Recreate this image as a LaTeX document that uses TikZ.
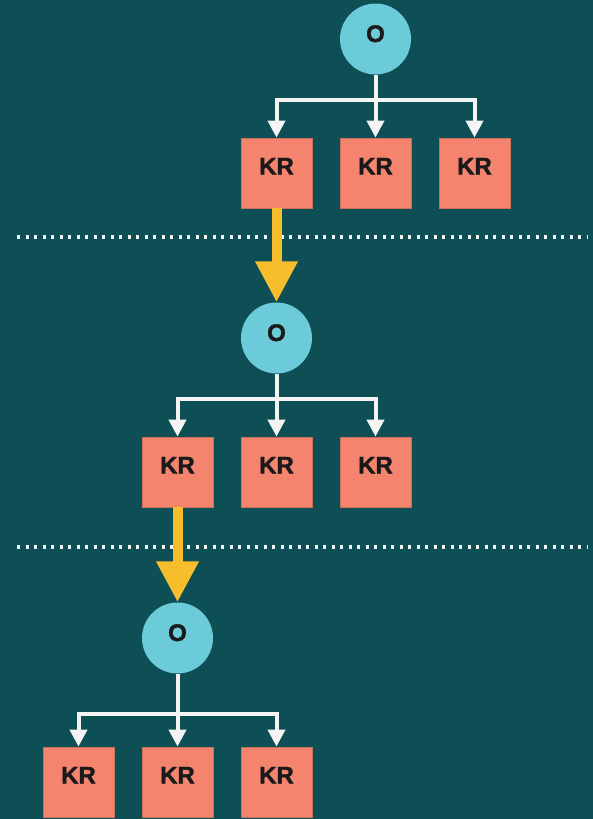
\documentclass[tikz,border=0pt]{standalone}
\usepackage{fontspec}
\setmainfont{Liberation Sans}
\newfontfamily\heavyfont[FakeBold=1.6]{Liberation Sans Bold}
\usetikzlibrary{arrows.meta}
\definecolor{bgc}{HTML}{0D4F55}
\definecolor{circc}{HTML}{6CCBD8}
\definecolor{boxc}{HTML}{F4846D}
\definecolor{boxb}{HTML}{C9705D}
\definecolor{yelc}{HTML}{F5BE2A}
\definecolor{whc}{HTML}{F4F4F4}
\definecolor{txc}{HTML}{1A1A1A}
\begin{document}
\begin{tikzpicture}[x=1pt,y=-1pt,
  obj/.style={circle,fill=circc,minimum size=71pt,inner sep=0pt,text=txc,
    font=\heavyfont\fontsize{24}{24}\selectfont,text height=17pt,text depth=11pt},
  kr/.style={rectangle,fill=boxc,draw=boxb,line width=0.8pt,minimum width=71pt,minimum height=70pt,
    inner sep=0pt,text=txc,font=\heavyfont\fontsize{24}{24}\selectfont,text height=17pt,text depth=14pt},
  wline/.style={draw=whc,line width=4pt,line cap=butt},
  warr/.style={draw=whc,line width=4pt,miter limit=10,-{Triangle[width=17pt,length=17pt]}},
  yarr/.style={draw=yelc,line width=10pt,-{Triangle[width=40pt,length=41pt]}},
  dotl/.style={draw=whc,line width=3.4pt,dash pattern=on 3.4pt off 5.1pt}]
\useasboundingbox (0,0) rectangle (593,819);
\fill[bgc] (0,0) rectangle (593,819);
% level 1
\node[obj] (o1) at (375.5,39) {O};
\node[kr] (k11) at (276.5,173) {KR};
\node[kr] (k12) at (375.5,173) {KR};
\node[kr] (k13) at (474.5,173) {KR};
\coordinate (b1) at (375.5,100);
% level 2
\node[obj] (o2) at (276.5,338) {O};
\node[kr] (k21) at (177.5,472) {KR};
\node[kr] (k22) at (276.5,472) {KR};
\node[kr] (k23) at (375.5,472) {KR};
\coordinate (b2) at (276.5,399);
% level 3
\node[obj] (o3) at (177.5,638) {O};
\node[kr] (k31) at (78.5,782) {KR};
\node[kr] (k32) at (177.5,782) {KR};
\node[kr] (k33) at (276.5,782) {KR};
\coordinate (b3) at (177.5,714);
% tree connectors
\foreach \l in {1,2,3}{
  \draw[wline] (o\l.south) -- (b\l);
  \draw[warr] (b\l) -| (k\l1.north);
  \draw[warr] (b\l) -- (k\l2.north);
  \draw[warr] (b\l) -| (k\l3.north);
}
% dotted separators
\coordinate (d1l) at (17,237); \coordinate (d1r) at (587,237);
\coordinate (d2l) at (17,547); \coordinate (d2r) at (587,547);
\draw[dotl] (d1l) -- (d1r);
\draw[dotl] (d2l) -- (d2r);
% yellow arrows
\draw[yarr] (k11.south) -- (o2.north);
\draw[yarr] (k21.south) -- (o3.north);
\end{tikzpicture}
\end{document}
